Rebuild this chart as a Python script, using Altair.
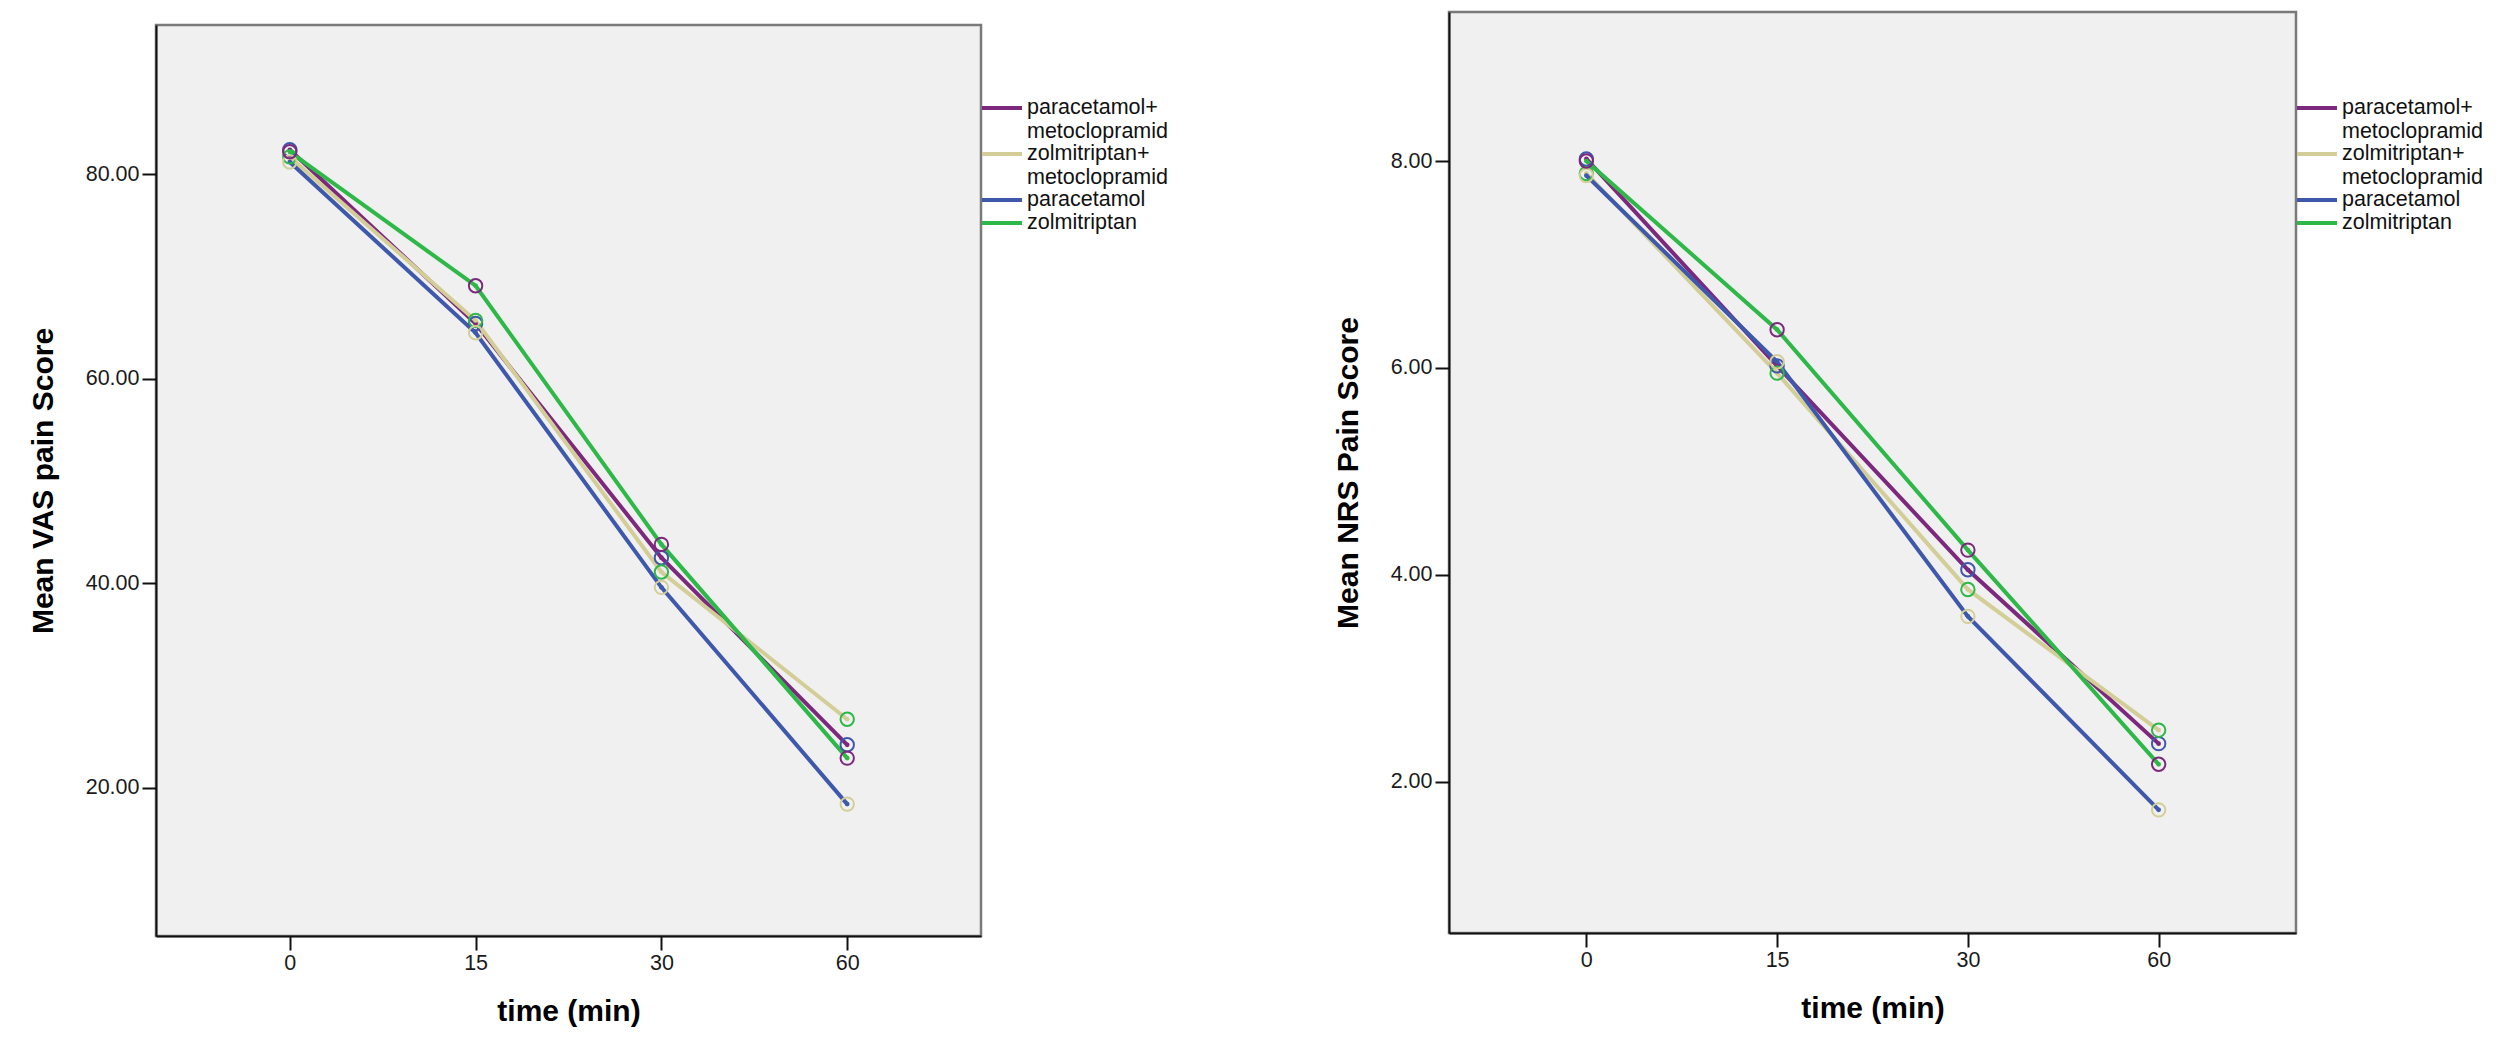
import pandas as pd
import altair as alt

times = [0, 15, 30, 60]
groups = ["paracetamol+ metoclopramid", "zolmitriptan+ metoclopramid", "paracetamol", "zolmitriptan"]
line_colors = ["#7C287D", "#D3CE97", "#3E58AC", "#2EB848"]
marker_colors = ["#3E58AC", "#2EB848", "#D3CE97", "#7C287D"]

# Mean VAS pain score per group at 0, 15, 30, 60 min
vas_pm = [82.4, 65.4, 42.5, 24.2]
vas_zm = [81.7, 65.7, 41.1, 26.7]
vas_p = [81.2, 64.5, 39.6, 18.4]
vas_z = [82.2, 69.1, 43.8, 22.9]

# Mean NRS pain score per group
nrs_pm = [8.02, 6.02, 4.05, 2.37]
nrs_zm = [7.88, 5.95, 3.86, 2.50]
nrs_p = [7.86, 6.06, 3.60, 1.73]
nrs_z = [8.00, 6.37, 4.24, 2.17]

vas_ticks = [20, 40, 60, 80]
nrs_ticks = [2, 4, 6, 8]

FONT = "Liberation Sans"


def make_panel(series, ytitle, domain, ticks, width, height):
    rows = []
    for g, lc, mc, vals in zip(groups, line_colors, marker_colors, series):
        for t, v in zip(times, vals):
            rows.append({"time": t, "group": g, "score": v,
                         "lineColor": lc, "markerColor": mc})
    df = pd.DataFrame(rows)

    x = alt.X("time:O", title="time (min)",
              scale=alt.Scale(type="point", padding=0.72),
              axis=alt.Axis(labelAngle=0))
    y = alt.Y("score:Q", title=ytitle,
              scale=alt.Scale(domain=domain, nice=False, zero=False),
              axis=alt.Axis(values=ticks, format=".2f"))

    base = alt.Chart(df)
    lines = base.mark_line(strokeWidth=4).encode(
        x=x, y=y,
        color=alt.Color("group:N", sort=groups,
                        scale=alt.Scale(domain=groups, range=line_colors),
                        legend=alt.Legend(
                            title=None, orient="none", legendX=width + 1, legendY=84,
                            symbolType="M-2,0H2", symbolSize=400, symbolStrokeWidth=4,
                            symbolOffset=8,
                            labelFont=FONT, labelFontSize=21.5, labelColor="#111111",
                            labelExpr="split(datum.label, ' ')", labelOffset=13,
                            labelLimit=400, rowPadding=0, padding=0)),
    )
    dots = base.mark_point(filled=True, size=22, opacity=1).encode(
        x=x, y=y, color=alt.Color("lineColor:N", scale=None))
    rings = base.mark_point(filled=False, size=180, strokeWidth=2, opacity=1).encode(
        x=x, y=y, stroke=alt.Stroke("markerColor:N", scale=None))

    return alt.layer(lines, dots, rings).properties(width=width, height=height)


left = make_panel([vas_pm, vas_zm, vas_p, vas_z], "Mean VAS pain Score",
                  [5.5, 94.6], vas_ticks, 825, 911)
right = make_panel([nrs_pm, nrs_zm, nrs_p, nrs_z], "Mean NRS Pain Score",
                   [0.54, 9.44], nrs_ticks, 847, 921)

# empty strip that lowers the left panel a little, as in the original
spacer = alt.Chart(pd.DataFrame({"a": [0]})).mark_point(opacity=0).encode(
    x=alt.value(0), y=alt.value(0)
).properties(width=1, height=1,
             view=alt.ViewBackground(fill="transparent", stroke="transparent"))

left_col = alt.vconcat(spacer, left, spacing=7)

chart = alt.hconcat(left_col, right, spacing=163).resolve_scale(
    color="independent"
).properties(
    padding={"left": 18, "top": 0, "right": 5, "bottom": 5}
).configure_view(
    fill="#f0f0f0", stroke="#7a7a7a", strokeWidth=2.5
).configure_axis(
    grid=False, domainColor="#111111", domainWidth=2,
    tickColor="#111111", tickWidth=2, tickSize=14,
    labelFont=FONT, labelFontSize=21.5, labelColor="#1a1a1a",
    titleFont=FONT, titleFontSize=30, titleFontWeight="bold", titleColor="#000000",
).configure_axisY(
    labelPadding=3, titlePadding=27
).configure_axisX(
    labelPadding=2, titlePadding=23
)

chart.save("out.html", embed_options={"renderer": "svg", "actions": False})
